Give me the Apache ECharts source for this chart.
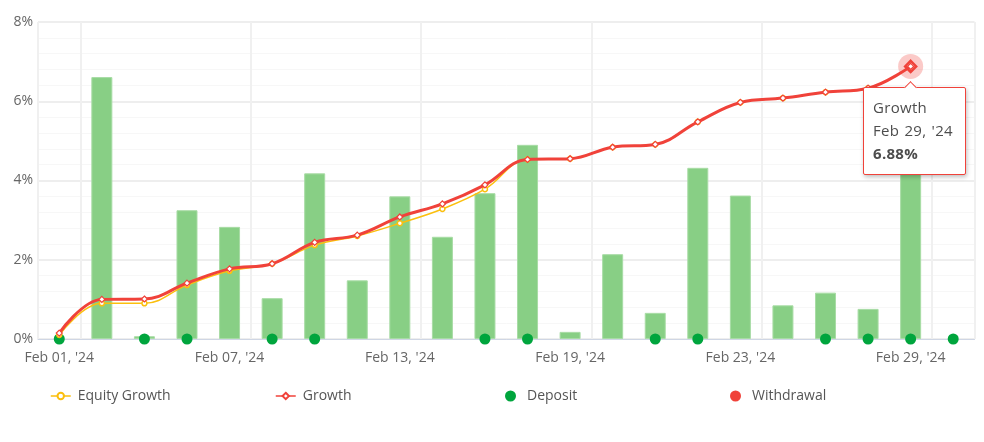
<!DOCTYPE html>
<html>
<head>
<meta charset="utf-8">
<style>
    html, body { margin: 0; padding: 0; background: #fff; }
    #main { width: 984px; height: 442px; }
</style>
<script src="https://cdn.jsdelivr.net/npm/echarts@6/dist/echarts.min.js"></script>
</head>
<body>
<div id="main"></div>
<script>
var categories = ["Feb 01, '24", "Feb 02, '24", "Feb 05, '24", "Feb 06, '24", "Feb 07, '24", "Feb 08, '24",
    "Feb 09, '24", "Feb 12, '24", "Feb 13, '24", "Feb 14, '24", "Feb 15, '24", "Feb 16, '24", "Feb 19, '24",
    "Feb 20, '24", "Feb 21, '24", "Feb 22, '24", "Feb 23, '24", "Feb 26, '24", "Feb 27, '24", "Feb 28, '24",
    "Feb 29, '24", "Mar 01, '24"];
var equityGrowth = [0.10, 0.90, 0.90, 1.36, 1.72, 1.90, 2.37, 2.60, 2.92, 3.28, 3.78, 4.53, 4.55, 4.84, 4.91, 5.48, 5.97, 6.08, 6.23, 6.33, 6.88, null];
var growth = [0.15, 1.00, 1.01, 1.41, 1.77, 1.90, 2.44, 2.62, 3.08, 3.41, 3.89, 4.53, 4.55, 4.84, 4.91, 5.48, 5.97, 6.08, 6.23, 6.33, 6.88, null];
var barValues = [null, 6.61, 0.07, 3.25, 2.83, 1.03, 4.18, 1.48, 3.60, 2.58, 3.68, 4.90, 0.18, 2.14, 0.66, 4.32, 3.62, 0.85, 1.17, 0.76, 4.30, null];
var deposit = [0, null, 0, 0, null, 0, 0, null, null, null, 0, 0, null, null, 0, 0, null, null, 0, 0, 0, 0];
var withdrawal = [];
var tipIndex = 20;

var FONT = "'Open Sans', sans-serif";
var RED = '#f0423a';
var YELLOW = '#fbbf0e';
var GREEN = '#00a53d';

var chart = echarts.init(document.getElementById('main'));

// 图例各自定位，间距和原图一致
function legendItem(name, left, isLine) {
    return {
        data: [name],
        left: left,
        top: 389,
        padding: 0,
        itemWidth: isLine ? 20 : 11,
        itemHeight: isLine ? 8 : 11,
        symbolSize: isLine ? 6 : 'auto',
        lineStyle: { width: 1.5 },
        textStyle: { color: '#555', fontSize: 14, fontFamily: FONT, padding: [0, 0, 0, isLine ? 2 : 6] }
    };
}

chart.setOption({
    animation: false,
    textStyle: { fontFamily: FONT },
    grid: { left: 38, right: 9.5, top: 22, bottom: 103 },
    tooltip: {
        trigger: 'item',
        alwaysShowContent: true,
        transitionDuration: 0,
        padding: 0,
        borderWidth: 0,
        backgroundColor: 'transparent',
        extraCssText: 'box-shadow:none;',
        position: function(pos) {
            return [pos[0] - 48, pos[1] + 21];
        },
        formatter: function(p) {
            return '<div style="position:relative;box-sizing:border-box;width:103px;height:88px;padding:8px 9px;background:#fff;'
                + 'border:1px solid ' + RED + ';border-radius:2px;box-shadow:1px 2px 4px rgba(0,0,0,.25);'
                + 'font:15px/23px ' + FONT + ';color:#4d4d4d;letter-spacing:.3px;word-spacing:1px;white-space:nowrap;">'
                + '<div style="position:absolute;left:42px;top:-5px;width:8px;height:8px;background:#fff;'
                + 'border-left:1px solid ' + RED + ';border-top:1px solid ' + RED + ';transform:rotate(45deg);"></div>'
                + p.seriesName + '<br>' + p.name + '<br><b>' + p.value.toFixed(2) + '%</b></div>';
        }
    },
    legend: [
        legendItem('Equity Growth', 50, true),
        legendItem('Growth', 275, true),
        legendItem('Deposit', 505, false),
        legendItem('Withdrawal', 730, false)
    ],
    xAxis: {
        type: 'category',
        data: categories,
        axisLine: { lineStyle: { color: '#cfd6e4', width: 1 } },
        axisTick: { show: false },
        axisLabel: { interval: 3, color: '#666', fontSize: 14, margin: 12, fontFamily: FONT },
        splitLine: {
            show: true,
            interval: function(index) {
                return index === 0 || index % 4 === 1;
            },
            lineStyle: { color: '#f0f0f0', width: 2 }
        }
    },
    yAxis: {
        type: 'value',
        min: 0,
        max: 8,
        interval: 2,
        axisLine: { show: false },
        axisTick: { show: false },
        axisLabel: { color: '#666', fontSize: 14, margin: 5, padding: [4, 0, 0, 0], fontFamily: FONT, formatter: '{value}%' },
        splitLine: { lineStyle: { color: '#eeeeee', width: 2 } },
        minorTick: { show: false, splitNumber: 5 },
        minorSplitLine: { show: true, lineStyle: { color: '#f7f7f7', width: 1 } }
    },
    series: [
        {
            name: 'Bars',
            type: 'bar',
            data: barValues,
            barWidth: 21,
            silent: true,
            itemStyle: { color: '#88cf85', borderColor: '#a8dca5', borderWidth: 1 },
            z: 2
        },
        {
            name: 'Deposit',
            type: 'scatter',
            data: deposit,
            symbol: 'circle',
            symbolSize: 11,
            itemStyle: { color: GREEN, opacity: 1 },
            z: 3
        },
        {
            name: 'Withdrawal',
            type: 'scatter',
            data: withdrawal,
            symbol: 'circle',
            symbolSize: 11,
            itemStyle: { color: RED, opacity: 1 },
            z: 3
        },
        {
            name: 'Equity Growth',
            type: 'line',
            data: equityGrowth,
            smooth: 0.4,
            symbol: 'circle',
            symbolSize: 5,
            showSymbol: true,
            lineStyle: { color: YELLOW, width: 1.5 },
            itemStyle: { color: '#fff', borderColor: YELLOW, borderWidth: 1.5 },
            z: 4
        },
        {
            name: 'Growth',
            type: 'line',
            data: growth,
            smooth: 0.4,
            symbol: 'diamond',
            symbolSize: 6,
            showSymbol: true,
            lineStyle: { color: RED, width: 3 },
            itemStyle: { color: '#fff', borderColor: RED, borderWidth: 1.2 },
            z: 5,
            markPoint: {
                silent: true,
                animation: false,
                label: { show: false },
                data: [
                    { coord: [tipIndex, growth[tipIndex]], symbol: 'circle', symbolSize: 25,
                        itemStyle: { color: 'rgba(240,66,58,0.28)' } },
                    { coord: [tipIndex, growth[tipIndex]], symbol: 'diamond', symbolSize: 11,
                        itemStyle: { color: '#fff', borderColor: RED, borderWidth: 2.5 } }
                ]
            }
        }
    ]
});

chart.dispatchAction({ type: 'showTip', seriesIndex: 4, dataIndex: tipIndex });
</script>
</body>
</html>
